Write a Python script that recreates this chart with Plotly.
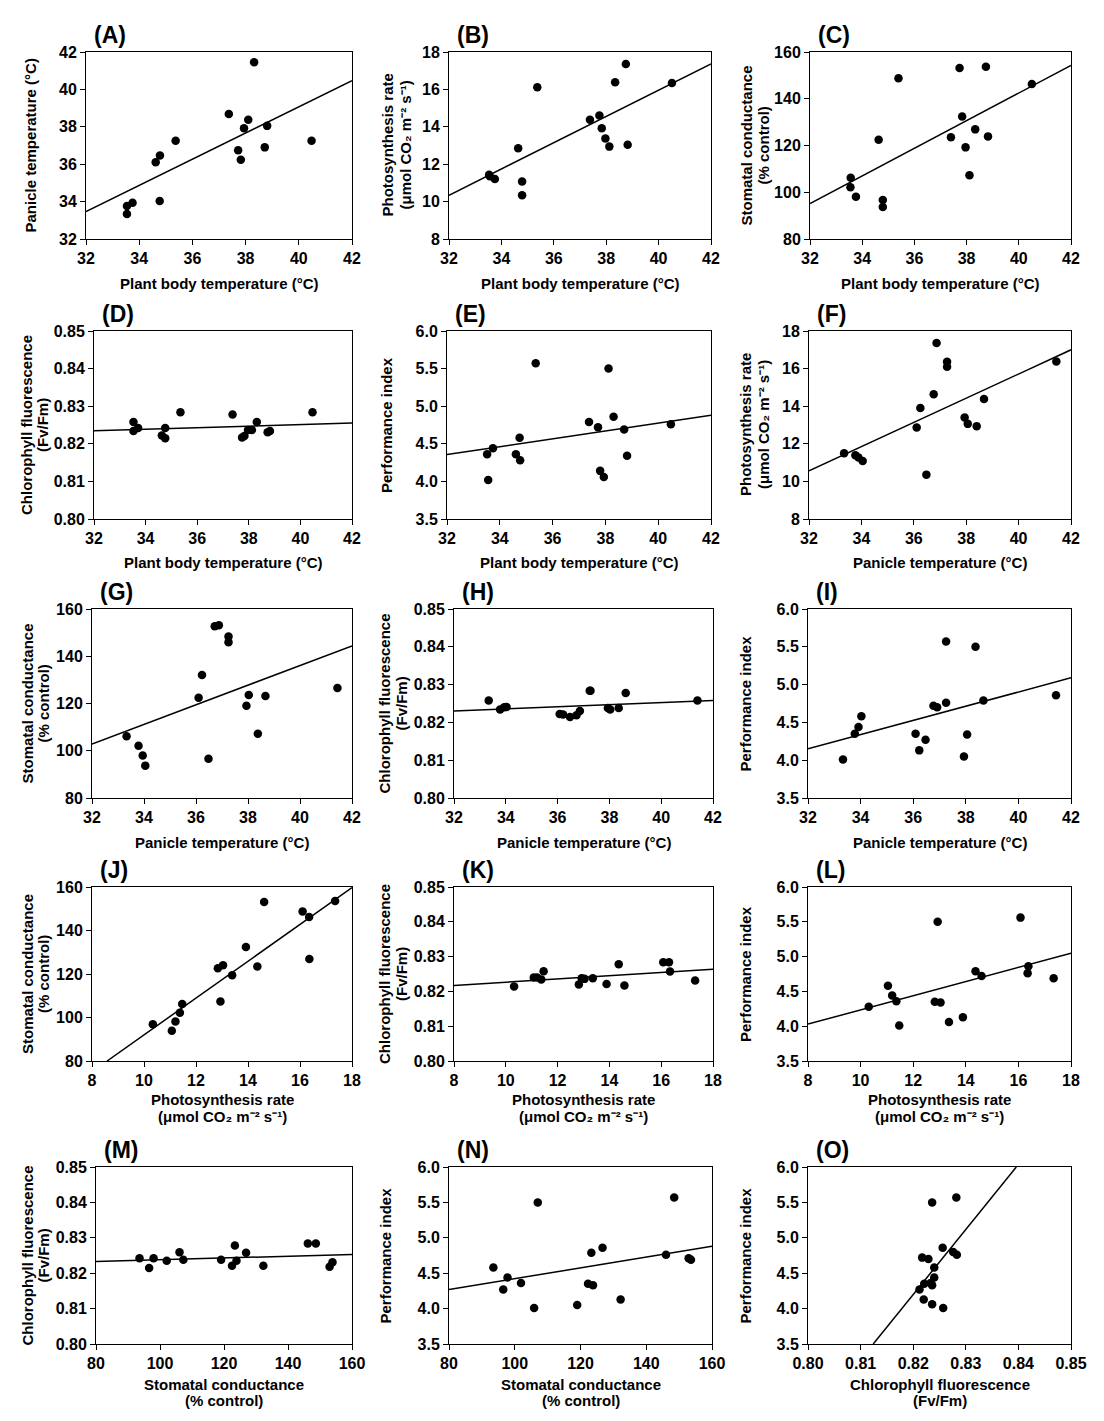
import plotly.graph_objects as go

W, H = 1104, 1421
FONT = "Liberation Sans, Arial, Helvetica, sans-serif"

# ---------------- data ----------------
A_x = [38.32, 37.37, 38.10, 37.94, 38.81, 40.48, 35.37, 37.72, 38.72, 37.82, 34.78, 34.62, 34.77, 33.75, 33.54, 33.54]
A_y = [41.45, 38.68, 38.38, 37.92, 38.05, 37.26, 37.26, 36.74, 36.90, 36.24, 36.47, 36.10, 34.03, 33.94, 33.76, 33.34]
A_lx = [32, 42]
A_ly = [33.46, 40.47]

B_x = [38.75, 38.34, 40.51, 35.37, 37.74, 37.38, 37.83, 37.97, 38.12, 38.82, 34.64, 33.53, 33.56, 33.75, 34.79, 34.79]
B_y = [17.36, 16.38, 16.34, 16.11, 14.61, 14.38, 13.92, 13.38, 12.94, 13.04, 12.85, 11.44, 11.35, 11.21, 11.08, 10.34]
B_lx = [32, 42]
B_ly = [10.34, 17.36]

C_x = [38.74, 37.73, 35.39, 40.50, 37.83, 38.33, 37.40, 38.82, 34.63, 37.96, 38.11, 33.56, 33.55, 33.76, 34.79, 34.79]
C_y = [153.7, 153.2, 148.8, 146.3, 132.4, 126.9, 123.5, 123.9, 122.5, 119.2, 107.3, 106.2, 102.1, 98.1, 96.7, 93.7]
C_lx = [32, 42]
C_ly = [95.1, 154.3]

D_x = [35.35, 37.37, 40.47, 33.53, 38.31, 33.53, 33.71, 34.76, 34.63, 34.76, 37.74, 37.83, 37.97, 38.12, 38.73, 38.82]
D_y = [0.8284, 0.8278, 0.8284, 0.8258, 0.8258, 0.8234, 0.8242, 0.8242, 0.8222, 0.8215, 0.8217, 0.8221, 0.8237, 0.8237, 0.8231, 0.8234]
D_lx = [32, 42]
D_ly = [0.82345, 0.8255]

E_x = [35.36, 38.12, 38.31, 37.38, 37.72, 38.71, 40.48, 34.75, 33.74, 33.52, 34.61, 34.77, 38.82, 37.80, 37.94, 33.56]
E_y = [5.57, 5.50, 4.86, 4.79, 4.72, 4.69, 4.76, 4.58, 4.44, 4.36, 4.36, 4.28, 4.34, 4.14, 4.06, 4.02]
E_lx = [32, 42]
E_ly = [4.357, 4.88]

F_x = [36.87, 37.27, 37.27, 41.44, 36.76, 38.68, 36.25, 37.94, 38.06, 38.40, 36.11, 33.34, 33.77, 33.89, 34.05, 36.48]
F_y = [17.36, 16.37, 16.10, 16.38, 14.63, 14.38, 13.91, 13.40, 13.06, 12.94, 12.87, 11.50, 11.39, 11.27, 11.09, 10.36]
F_lx = [32, 42]
F_ly = [10.56, 17.0]

G_x = [36.72, 36.88, 37.25, 37.25, 36.23, 36.10, 38.03, 38.67, 37.94, 41.44, 38.38, 33.33, 33.79, 33.95, 34.05, 36.48]
G_y = [152.7, 153.1, 148.4, 145.9, 132.1, 122.4, 123.6, 123.2, 119.0, 126.6, 107.2, 106.1, 102.1, 98.0, 93.7, 96.6]
G_lx = [32, 42]
G_ly = [102.8, 144.4]

H_x = [33.34, 33.78, 33.94, 34.03, 36.08, 36.21, 36.48, 36.73, 36.86, 37.24, 37.27, 37.94, 38.03, 38.36, 38.63, 41.40]
H_y = [0.8258, 0.8234, 0.8240, 0.8241, 0.8222, 0.8221, 0.8214, 0.8219, 0.8230, 0.8284, 0.8284, 0.8238, 0.8234, 0.8238, 0.8278, 0.8258]
H_lx = [32, 42]
H_ly = [0.8230, 0.8258]

I_x = [37.25, 38.37, 41.43, 38.67, 37.25, 36.77, 36.91, 34.03, 33.92, 33.78, 36.09, 38.05, 36.47, 36.23, 37.93, 33.33]
I_y = [5.57, 5.50, 4.86, 4.79, 4.76, 4.72, 4.70, 4.58, 4.44, 4.35, 4.35, 4.34, 4.27, 4.13, 4.05, 4.01]
I_lx = [32, 42]
I_ly = [4.15, 5.09]

J_x = [17.35, 14.62, 16.10, 16.35, 16.36, 13.92, 14.36, 13.04, 12.84, 13.39, 12.94, 11.47, 11.38, 11.21, 11.07, 10.34]
J_y = [153.6, 153.1, 148.7, 146.2, 126.9, 132.4, 123.4, 124.0, 122.6, 119.4, 107.4, 106.2, 102.2, 98.2, 93.9, 96.9]
J_lx = [8.58, 18]
J_ly = [80, 159.7]

K_x = [10.32, 11.08, 11.21, 11.37, 11.46, 12.82, 12.93, 13.04, 13.36, 13.89, 14.36, 14.58, 16.08, 16.30, 16.34, 17.31]
K_y = [0.8214, 0.8240, 0.8240, 0.8234, 0.8258, 0.8220, 0.8238, 0.8236, 0.8238, 0.8221, 0.8278, 0.8217, 0.8284, 0.8284, 0.8257, 0.8231]
K_lx = [8, 18]
K_ly = [0.8217, 0.8264]

L_x = [16.08, 12.93, 16.38, 16.35, 14.37, 14.60, 17.34, 11.04, 11.20, 11.36, 12.82, 13.04, 10.31, 13.89, 13.36, 11.47]
L_y = [5.56, 5.50, 4.86, 4.76, 4.79, 4.72, 4.69, 4.58, 4.44, 4.36, 4.35, 4.34, 4.28, 4.13, 4.06, 4.01]
L_lx = [8, 18]
L_ly = [4.03, 5.05]

M_x = [93.6, 96.6, 98.0, 102.1, 106.1, 107.3, 119.1, 122.5, 123.4, 123.9, 126.9, 132.3, 146.2, 148.7, 153.0, 153.9]
M_y = [0.8242, 0.8215, 0.8242, 0.8235, 0.8259, 0.8238, 0.8238, 0.8221, 0.8278, 0.8235, 0.8258, 0.8221, 0.8284, 0.8284, 0.8218, 0.8231]
M_lx = [80, 160]
M_ly = [0.8233, 0.8253]

N_x = [148.5, 107.0, 126.7, 123.3, 146.0, 152.9, 153.6, 93.5, 97.8, 101.9, 122.3, 123.8, 96.5, 132.2, 119.0, 105.9]
N_y = [5.57, 5.50, 4.86, 4.79, 4.76, 4.71, 4.69, 4.58, 4.44, 4.36, 4.35, 4.33, 4.27, 4.13, 4.05, 4.01]
N_lx = [80, 160]
N_ly = [4.27, 4.88]

O_x = [0.8282, 0.8236, 0.8256, 0.8276, 0.8283, 0.8217, 0.8229, 0.8240, 0.8240, 0.8233, 0.8221, 0.8236, 0.8212, 0.8220, 0.8236, 0.8257]
O_y = [5.57, 5.50, 4.86, 4.80, 4.76, 4.72, 4.70, 4.58, 4.44, 4.36, 4.35, 4.33, 4.27, 4.13, 4.06, 4.01]
O_lx = [0.8124, 0.8396]
O_ly = [3.5, 6.0]

# axis ranges / tick values
T_RANGE, T_TICKS = [32, 42], [32, 34, 36, 38, 40, 42]
PN_RANGE, PN_TICKS = [8, 18], [8, 10, 12, 14, 16, 18]
GS_RANGE, GS_TICKS = [80, 160], [80, 100, 120, 140, 160]
FV_RANGE, FV_TICKS = [0.80, 0.85], [0.80, 0.81, 0.82, 0.83, 0.84, 0.85]
PI_RANGE, PI_TICKS = [3.5, 6.0], [3.5, 4.0, 4.5, 5.0, 5.5, 6.0]

# axis titles (lines separated by |)
T_PBT = "Plant body temperature (°C)"
T_PT = "Panicle temperature (°C)"
T_PN = "Photosynthesis rate|(μmol CO₂ m⁻² s⁻¹)"
T_GS = "Stomatal conductance|(% control)"
T_FV = "Chlorophyll fluorescence|(Fv/Fm)"
T_PI = "Performance index"

AX = {
    "T": (T_RANGE, T_TICKS, None),
    "PN": (PN_RANGE, PN_TICKS, None),
    "GS": (GS_RANGE, GS_TICKS, None),
    "FV": (FV_RANGE, FV_TICKS, ".2f"),
    "PI": (PI_RANGE, PI_TICKS, ".1f"),
}

# x-title line centres (px from top) per row
XT_R1, XT_R2, XT_R3 = (284,), (562,), (842,)
XT_R4, XT_R5 = (1099, 1116), (1384, 1400)

# panel: letter, x, y, line x, line y, x-axis kind, y-axis kind, x title, y title,
#        box (left, right, top, bottom) px, y-title line centres x px, x-title line centres y px
panels = [
    ("A", A_x, A_y, A_lx, A_ly, "T", "T", T_PBT, T_PT, (86, 352, 52, 239), (30,), XT_R1),
    ("B", B_x, B_y, B_lx, B_ly, "T", "PN", T_PBT, T_PN, (449, 711, 52, 239), (387, 405), XT_R1),
    ("C", C_x, C_y, C_lx, C_ly, "T", "GS", T_PBT, T_GS, (810, 1071, 52, 239), (746, 763), XT_R1),
    ("D", D_x, D_y, D_lx, D_ly, "T", "FV", T_PBT, T_FV, (94, 352, 331, 519), (26, 42), XT_R2),
    ("E", E_x, E_y, E_lx, E_ly, "T", "PI", T_PBT, T_PI, (447, 711, 331, 519), (386,), XT_R2),
    ("F", F_x, F_y, F_lx, F_ly, "T", "PN", T_PT, T_PN, (809, 1071, 331, 519), (745, 763), XT_R2),
    ("G", G_x, G_y, G_lx, G_ly, "T", "GS", T_PT, T_GS, (92, 352, 609, 798), (27, 43), XT_R3),
    ("H", H_x, H_y, H_lx, H_ly, "T", "FV", T_PT, T_FV, (454, 713, 609, 798), (384, 401), XT_R3),
    ("I", I_x, I_y, I_lx, I_ly, "T", "PI", T_PT, T_PI, (808, 1071, 609, 798), (745,), XT_R3),
    ("J", J_x, J_y, J_lx, J_ly, "PN", "GS", T_PN, T_GS, (92, 352, 887, 1061), (27, 43), XT_R4),
    ("K", K_x, K_y, K_lx, K_ly, "PN", "FV", T_PN, T_FV, (454, 713, 887, 1061), (384, 401), XT_R4),
    ("L", L_x, L_y, L_lx, L_ly, "PN", "PI", T_PN, T_PI, (808, 1071, 887, 1061), (745,), XT_R4),
    ("M", M_x, M_y, M_lx, M_ly, "GS", "FV", T_GS, T_FV, (96, 352, 1167, 1344), (27, 43), XT_R5),
    ("N", N_x, N_y, N_lx, N_ly, "GS", "PI", T_GS, T_PI, (449, 712, 1167, 1344), (385,), XT_R5),
    ("O", O_x, O_y, O_lx, O_ly, "FV", "PI", T_FV, T_PI, (808, 1071, 1167, 1344), (745,), XT_R5),
]

fig = go.Figure()
annotations = []
tickfont = dict(family=FONT, size=16, color="black", weight="bold")
titlefont = dict(family=FONT, size=15, color="black", weight="bold")

for i, (lab, xs, ys, lx, ly, xk, yk, xt, yt, box, ytx, xty) in enumerate(panels):
    n = "" if i == 0 else str(i + 1)
    left, right, top, bottom = box
    xr, xtv, xfmt = AX[xk]
    yr, ytv, yfmt = AX[yk]
    common = dict(showline=True, linecolor="black", linewidth=1, mirror=True,
                  ticks="outside", ticklen=5, tickwidth=1, tickcolor="black",
                  showgrid=False, zeroline=False, tickfont=tickfont, fixedrange=True,
                  automargin=False)
    fig.layout["xaxis" + n] = dict(domain=[left / W, right / W], range=xr, tickvals=xtv,
                                   tickformat=xfmt, anchor="y" + n, **common)
    fig.layout["yaxis" + n] = dict(domain=[1 - bottom / H, 1 - top / H], range=yr, tickvals=ytv,
                                   tickformat=yfmt, anchor="x" + n, ticklabelstandoff=0, **common)
    fig.add_trace(go.Scatter(x=lx, y=ly, mode="lines", line=dict(color="black", width=1.5),
                             xaxis="x" + n, yaxis="y" + n, showlegend=False, hoverinfo="skip"))
    fig.add_trace(go.Scatter(x=xs, y=ys, mode="markers", cliponaxis=False,
                             marker=dict(color="black", size=8.5, line=dict(width=0)),
                             xaxis="x" + n, yaxis="y" + n, showlegend=False))
    # panel letter
    annotations.append(dict(text="(" + lab + ")", xref="paper", yref="paper",
                            x=(left + 6) / W, y=1 - (top - 17) / H, xanchor="left", yanchor="middle",
                            showarrow=False, font=dict(family=FONT, size=23, color="black", weight="bold")))
    # x title (one annotation per line)
    for line, py in zip(xt.split("|"), xty):
        annotations.append(dict(text=line, xref="paper", yref="paper",
                                x=(left + right) / 2 / W, y=1 - py / H, xanchor="center", yanchor="middle",
                                showarrow=False, font=titlefont))
    # y title (one annotation per line)
    for line, px in zip(yt.split("|"), ytx):
        annotations.append(dict(text=line, xref="paper", yref="paper", textangle=-90,
                                x=px / W, y=1 - (top + bottom) / 2 / H, xanchor="center", yanchor="middle",
                                showarrow=False, font=titlefont))

fig.update_layout(width=W, height=H, margin=dict(l=0, r=0, t=0, b=0, autoexpand=False),
                  paper_bgcolor="white", plot_bgcolor="white",
                  annotations=annotations, showlegend=False)

fig.write_html("out.html", config={"displayModeBar": False},
               post_script="document.body.style.margin='0';document.body.style.overflow='hidden';")
